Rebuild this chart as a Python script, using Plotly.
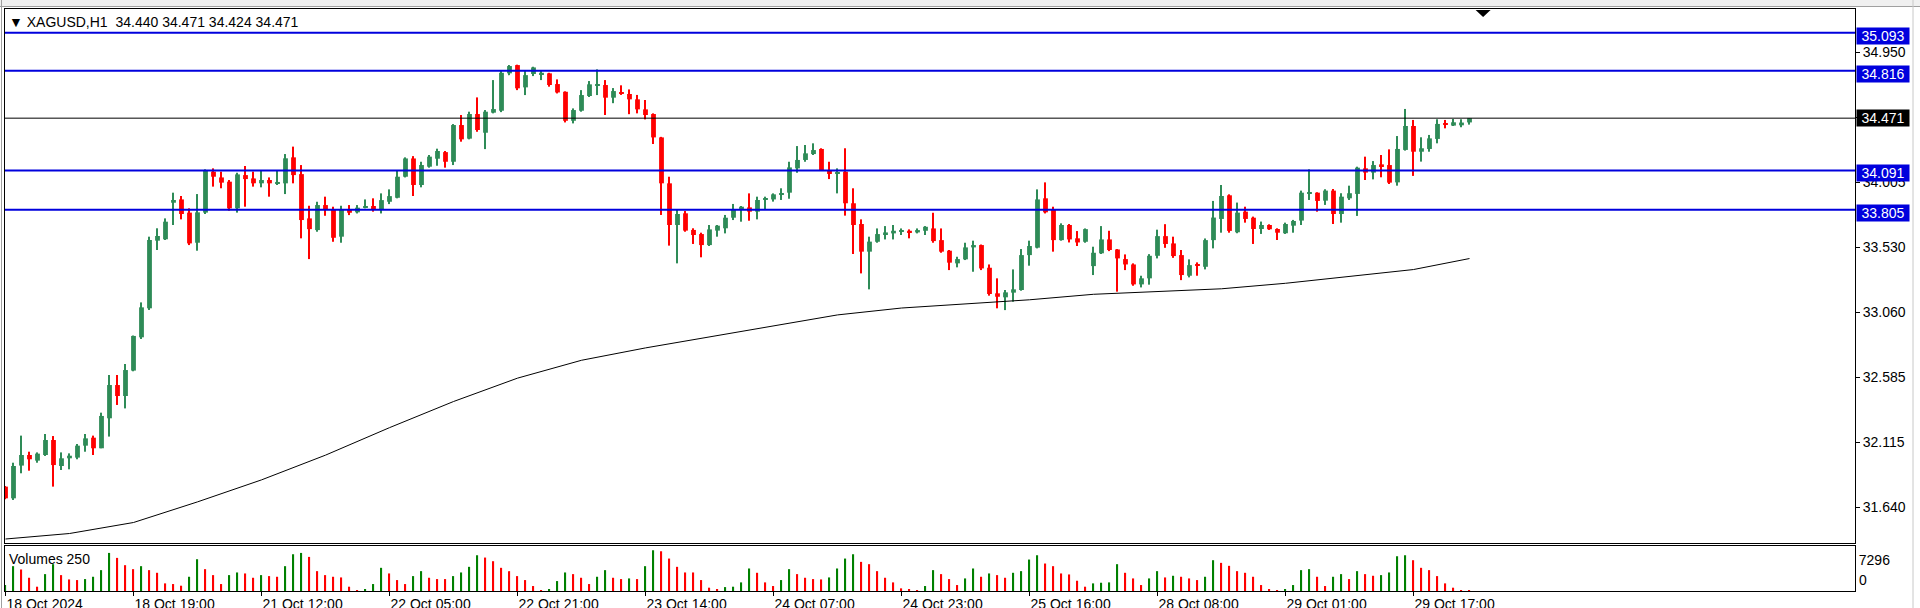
import plotly.graph_objects as go

# XAGUSD H1 candles (bar 0 = leftmost visible bar)
opens = [
    31.791, 31.706, 31.944, 32.021, 31.980, 32.021, 32.130, 31.941,
    31.997, 32.002, 32.089, 32.147, 32.070, 32.288, 32.530, 32.450,
    32.635, 32.877, 33.088, 33.580, 33.590, 33.856, 33.880, 33.784,
    33.565, 33.784, 34.082, 34.040, 34.009, 33.815, 34.057, 34.033,
    33.997, 34.021, 33.997, 33.997, 34.186, 34.064, 33.742, 33.657,
    33.839, 33.803, 33.609, 33.805, 33.786, 33.822, 33.832, 33.803,
    33.863, 33.892, 34.045, 34.178, 33.985, 34.118, 34.176, 34.224,
    34.154, 34.421, 34.322, 34.501, 34.365, 34.511, 34.525, 34.797,
    34.857, 34.695, 34.792, 34.789, 34.797, 34.719, 34.663, 34.452,
    34.525, 34.632, 34.707, 34.712, 34.620, 34.659, 34.647, 34.608,
    34.535, 34.501, 34.331, 33.997, 33.694, 33.779, 33.658, 33.628,
    33.548, 33.653, 33.670, 33.747, 33.803, 33.822, 33.791, 33.876,
    33.880, 33.914, 33.929, 34.106, 34.167, 34.210, 34.247, 34.094,
    34.065, 34.082, 33.852, 33.701, 33.500, 33.572, 33.628, 33.633,
    33.645, 33.652, 33.640, 33.652, 33.669, 33.584, 33.507, 33.415,
    33.444, 33.531, 33.548, 33.383, 33.197, 33.168, 33.202, 33.221,
    33.475, 33.529, 33.888, 33.803, 33.584, 33.694, 33.597, 33.572,
    33.395, 33.488, 33.589, 33.516, 33.446, 33.407, 33.262, 33.306,
    33.470, 33.613, 33.560, 33.475, 33.325, 33.410, 33.390, 33.584,
    33.738, 33.910, 33.641, 33.791, 33.747, 33.665, 33.694, 33.665,
    33.634, 33.689, 33.726, 33.925, 33.929, 33.871, 33.944, 33.774,
    33.888, 33.920, 34.106, 34.075, 34.135, 34.130, 34.004, 34.240,
    34.414, 34.227, 34.247, 34.320, 34.434, 34.417, 34.419, 34.440,
]
highs = [
    31.795, 31.965, 32.162, 32.045, 32.040, 32.174, 32.159, 32.040,
    32.033, 32.101, 32.174, 32.162, 32.329, 32.603, 32.603, 32.683,
    32.890, 33.131, 33.609, 33.670, 33.742, 33.929, 33.905, 33.815,
    33.919, 34.099, 34.106, 34.082, 34.021, 34.074, 34.123, 34.082,
    34.089, 34.040, 34.094, 34.210, 34.264, 34.130, 33.834, 33.863,
    33.900, 33.827, 33.834, 33.839, 33.839, 33.880, 33.888, 33.924,
    33.953, 34.089, 34.186, 34.195, 34.154, 34.203, 34.249, 34.232,
    34.428, 34.494, 34.518, 34.622, 34.530, 34.748, 34.816, 34.857,
    34.860, 34.816, 34.845, 34.821, 34.801, 34.753, 34.666, 34.542,
    34.675, 34.741, 34.826, 34.748, 34.690, 34.710, 34.680, 34.640,
    34.603, 34.506, 34.335, 34.045, 33.808, 33.796, 33.670, 33.638,
    33.694, 33.694, 33.767, 33.847, 33.832, 33.924, 33.900, 33.900,
    33.924, 33.961, 34.154, 34.268, 34.276, 34.288, 34.252, 34.154,
    34.106, 34.252, 33.961, 33.735, 33.609, 33.669, 33.686, 33.694,
    33.669, 33.662, 33.669, 33.686, 33.783, 33.669, 33.512, 33.463,
    33.565, 33.580, 33.552, 33.407, 33.306, 33.221, 33.371, 33.519,
    33.580, 33.953, 34.004, 33.827, 33.706, 33.701, 33.650, 33.669,
    33.536, 33.686, 33.652, 33.519, 33.480, 33.415, 33.325, 33.482,
    33.660, 33.700, 33.609, 33.512, 33.444, 33.422, 33.596, 33.869,
    33.985, 33.917, 33.857, 33.827, 33.755, 33.719, 33.699, 33.670,
    33.711, 33.731, 33.944, 34.099, 33.932, 33.954, 33.956, 33.925,
    33.980, 34.118, 34.191, 34.159, 34.203, 34.244, 34.341, 34.538,
    34.458, 34.332, 34.349, 34.463, 34.458, 34.465, 34.463, 34.471,
]
lows = [
    31.700, 31.694, 31.888, 31.907, 31.965, 32.014, 31.791, 31.912,
    31.917, 31.990, 32.045, 32.021, 32.070, 32.155, 32.385, 32.360,
    32.630, 32.865, 33.076, 33.512, 33.585, 33.694, 33.735, 33.548,
    33.507, 33.774, 33.973, 33.961, 33.798, 33.784, 33.827, 33.973,
    33.968, 33.900, 33.985, 33.919, 33.997, 33.597, 33.446, 33.645,
    33.761, 33.572, 33.565, 33.766, 33.778, 33.815, 33.791, 33.778,
    33.846, 33.888, 34.040, 33.905, 33.968, 34.111, 34.125, 34.111,
    34.130, 34.300, 34.317, 34.372, 34.246, 34.506, 34.515, 34.784,
    34.675, 34.639, 34.777, 34.748, 34.700, 34.651, 34.440, 34.433,
    34.518, 34.625, 34.639, 34.494, 34.580, 34.640, 34.500, 34.506,
    34.462, 34.283, 33.767, 33.544, 33.415, 33.645, 33.556, 33.459,
    33.541, 33.609, 33.633, 33.730, 33.718, 33.725, 33.735, 33.803,
    33.864, 33.876, 33.885, 34.074, 34.154, 34.203, 34.089, 34.028,
    33.924, 33.762, 33.483, 33.342, 33.226, 33.565, 33.589, 33.589,
    33.621, 33.597, 33.633, 33.621, 33.565, 33.492, 33.366, 33.386,
    33.439, 33.354, 33.366, 33.180, 33.088, 33.075, 33.136, 33.216,
    33.398, 33.524, 33.778, 33.500, 33.580, 33.567, 33.541, 33.565,
    33.330, 33.483, 33.504, 33.209, 33.366, 33.252, 33.240, 33.260,
    33.451, 33.528, 33.455, 33.293, 33.313, 33.325, 33.371, 33.524,
    33.638, 33.638, 33.634, 33.711, 33.556, 33.629, 33.658, 33.585,
    33.629, 33.638, 33.694, 33.876, 33.791, 33.840, 33.701, 33.711,
    33.876, 33.760, 34.021, 34.026, 34.041, 33.992, 33.980, 34.235,
    34.051, 34.155, 34.227, 34.288, 34.397, 34.414, 34.405, 34.424,
]
closes = [
    31.706, 31.941, 32.021, 31.990, 32.031, 32.130, 31.948, 31.997,
    32.016, 32.089, 32.142, 32.070, 32.305, 32.530, 32.450, 32.639,
    32.887, 33.095, 33.585, 33.614, 33.718, 33.876, 33.774, 33.560,
    33.786, 34.089, 34.045, 34.002, 33.815, 34.062, 34.028, 33.997,
    34.021, 33.997, 34.007, 34.179, 34.057, 33.730, 33.664, 33.839,
    33.803, 33.601, 33.810, 33.783, 33.820, 33.832, 33.803, 33.875,
    33.904, 34.045, 34.178, 33.985, 34.130, 34.191, 34.232, 34.154,
    34.421, 34.317, 34.501, 34.385, 34.518, 34.537, 34.801, 34.850,
    34.688, 34.784, 34.840, 34.801, 34.712, 34.658, 34.452, 34.530,
    34.639, 34.717, 34.717, 34.620, 34.668, 34.647, 34.608, 34.535,
    34.494, 34.331, 33.997, 33.694, 33.774, 33.653, 33.621, 33.548,
    33.662, 33.689, 33.747, 33.808, 33.827, 33.791, 33.876, 33.885,
    33.917, 33.924, 34.113, 34.167, 34.215, 34.239, 34.094, 34.065,
    34.075, 33.852, 33.694, 33.500, 33.573, 33.628, 33.640, 33.652,
    33.657, 33.640, 33.657, 33.681, 33.577, 33.500, 33.420, 33.446,
    33.531, 33.548, 33.378, 33.192, 33.172, 33.204, 33.226, 33.475,
    33.541, 33.880, 33.786, 33.584, 33.694, 33.589, 33.567, 33.664,
    33.492, 33.589, 33.512, 33.451, 33.407, 33.262, 33.306, 33.470,
    33.613, 33.556, 33.468, 33.330, 33.402, 33.398, 33.584, 33.748,
    33.905, 33.651, 33.784, 33.738, 33.665, 33.694, 33.663, 33.638,
    33.701, 33.723, 33.929, 33.931, 33.869, 33.944, 33.774, 33.900,
    33.925, 34.111, 34.075, 34.130, 34.123, 34.002, 34.247, 34.414,
    34.227, 34.252, 34.324, 34.429, 34.424, 34.441, 34.439, 34.471,
]
volumes = [
    1067, 4448, 3855, 2372, 771, 3024, 4803, 2846,
    2075, 1957, 2135, 2550, 3736, 6820, 5930, 4625,
    3914, 4448, 3736, 3262, 1364, 1245, 949, 2550,
    5693, 3914, 2846, 1245, 2846, 3321, 3143, 2372,
    2846, 2669, 2550, 4448, 6582, 6820, 6108, 3558,
    2846, 2550, 2431, 771, 178, 297, 1245, 4151,
    3143, 1957, 1245, 2669, 3558, 2372, 2135, 2135,
    2669, 3321, 4329, 6404, 5989, 5337, 4151, 3558,
    2669, 1957, 890, 178, 237, 1779, 3321, 3024,
    2372, 1245, 2550, 3736, 2372, 2135, 2253, 2135,
    4448, 7296, 7118, 5811, 4329, 3321, 3321, 1957,
    593, 356, 700, 771, 1542, 4032, 3262, 1542,
    890, 1957, 3914, 3024, 2372, 2135, 2075, 2431,
    4032, 5811, 6582, 5218, 4803, 3558, 2372, 1542,
    474, 237, 178, 890, 3736, 3024, 2135, 1067,
    2253, 4032, 2550, 3143, 2846, 2372, 3262, 3558,
    5633, 6404, 4922, 4448, 3143, 2965, 1838, 771,
    1364, 1482, 1542, 4803, 3262, 2253, 1067, 2253,
    3558, 2431, 2728, 2550, 2253, 1957, 2550, 5515,
    5040, 4507, 3558, 3262, 2550, 1067, 297, 178,
    297, 1067, 3736, 3914, 2550, 890, 2550, 3024,
    2135, 3558, 3024, 2728, 2846, 3321, 6226, 6404,
    5515, 4151, 3736, 2669, 1364, 593, 178, 178,
]

# moving average (250) read at a few bars
ma_bars = [0, 8, 16, 24, 32, 40, 48, 56, 64, 72, 80, 88, 96, 104,
           112, 120, 128, 136, 144, 152, 160, 168, 176, 183]
ma_values = [31.41, 31.45, 31.53, 31.68, 31.84, 32.02, 32.22, 32.41,
             32.58, 32.71, 32.80, 32.88, 32.96, 33.04, 33.09, 33.12,
             33.15, 33.19, 33.21, 33.23, 33.27, 33.32, 33.37, 33.45]

level_prices = [35.093, 34.816, 34.091, 33.805]
current_price = 34.471

price_ticks = [31.640, 32.115, 32.585, 33.060, 33.530, 34.005, 34.475, 34.950]
time_tick_bars = [0, 16, 32, 48, 64, 80, 96, 112, 128, 144, 160, 176]
time_tick_labels = ["18 Oct 2024", "18 Oct 19:00", "21 Oct 12:00", "22 Oct 05:00",
                    "22 Oct 21:00", "23 Oct 14:00", "24 Oct 07:00", "24 Oct 23:00",
                    "25 Oct 16:00", "28 Oct 08:00", "29 Oct 01:00", "29 Oct 17:00"]
volume_max = 7296

GREEN = "#2E8B57"
RED = "#FF0000"
BLUE = "#0000DD"
FONT = "Liberation Sans"

bars = list(range(len(closes)))
candle_colors = [GREEN if c > o else RED for o, c in zip(opens, closes)]
body_base = [min(o, c) for o, c in zip(opens, closes)]
body_size = [max(abs(c - o), 0.007) for o, c in zip(opens, closes)]
wick_size = [h - l for h, l in zip(highs, lows)]
# MT4 volumes: green when volume rises over the previous bar
vol_colors = ["#008000"] + ["#008000" if volumes[i] > volumes[i - 1] else RED
                            for i in range(1, len(volumes))]

fig = go.Figure()
fig.add_trace(go.Bar(x=bars, y=wick_size, base=lows, width=0.13,
                     marker=dict(color=candle_colors, line=dict(width=0)),
                     xaxis="x", yaxis="y", hoverinfo="skip"))
fig.add_trace(go.Bar(x=bars, y=body_size, base=body_base, width=0.6,
                     marker=dict(color=candle_colors, line=dict(width=0)),
                     xaxis="x", yaxis="y", hoverinfo="skip"))
fig.add_trace(go.Scatter(x=ma_bars, y=ma_values, mode="lines",
                         line=dict(color="black", width=1),
                         xaxis="x", yaxis="y", hoverinfo="skip"))
fig.add_trace(go.Bar(x=bars, y=volumes, width=0.15,
                     marker=dict(color=vol_colors, line=dict(width=0)),
                     xaxis="x2", yaxis="y2", hoverinfo="skip"))

# horizontal levels and their price boxes
shapes = []
annotations = []
for p in level_prices:
    shapes.append(dict(type="line", xref="paper", x0=0, x1=1, yref="y", y0=p, y1=p,
                       line=dict(color=BLUE, width=2)))
    annotations.append(dict(xref="paper", x=1, xanchor="left", xshift=1,
                            yref="y", y=p, yanchor="middle", yshift=-3,
                            text=f"{p:.3f}", showarrow=False, bgcolor=BLUE,
                            width=50, height=14, borderpad=1,
                            font=dict(family=FONT, size=14, color="white")))
shapes.append(dict(type="line", xref="paper", x0=0, x1=1, yref="y",
                   y0=current_price, y1=current_price, line=dict(color="black", width=1)))
annotations.append(dict(xref="paper", x=1, xanchor="left", xshift=1,
                        yref="y", y=current_price, yanchor="middle",
                        text=f"{current_price:.3f}", showarrow=False, bgcolor="black",
                        width=50, height=14, borderpad=1,
                        font=dict(family=FONT, size=14, color="white")))

# window strip at the very top
shapes.append(dict(type="rect", xref="paper", yref="paper", x0=-0.01, x1=1.05,
                   y0=1 + 2.5 / 582, y1=1 + 12 / 582, fillcolor="#F0F0F0", line=dict(width=0)))
shapes.append(dict(type="line", xref="paper", yref="paper", x0=-0.01, x1=1.05,
                   y0=1 + 2.5 / 582, y1=1 + 2.5 / 582, line=dict(color="#A0A0A0", width=1)))
shapes.append(dict(type="line", xref="paper", yref="paper", x0=-3.5 / 1850, x1=-3.5 / 1850,
                   y0=-0.05, y1=1.02, line=dict(color="#A0A0A0", width=1)))
shapes.append(dict(type="line", xref="paper", yref="paper", x0=1 + 58 / 1850, x1=1 + 58 / 1850,
                   y0=-0.05, y1=1.02, line=dict(color="#C8C8C8", width=1)))
# chart shift marker
shapes.append(dict(type="path", xref="x", yref="paper", xsizemode="pixel", ysizemode="pixel",
                   xanchor=184.7, yanchor=1, path="M -7.5 -1 L 7.5 -1 L 0 -8 Z",
                   fillcolor="black", line=dict(width=0)))

annotations.append(dict(xref="paper", x=0, xanchor="left", xshift=2,
                        yref="paper", y=1, yanchor="top", yshift=-3,
                        text="\u25bc XAGUSD,H1 \u00a034.440 34.471 34.424 34.471",
                        showarrow=False, font=dict(family=FONT, size=14, color="black")))
annotations.append(dict(xref="paper", x=0, xanchor="left", xshift=2,
                        yref="paper", y=45 / 582, yanchor="top", yshift=-3,
                        text="Volumes 250", showarrow=False,
                        font=dict(family=FONT, size=14, color="black")))
annotations.append(dict(xref="paper", x=1, xanchor="left", xshift=2,
                        yref="y2", y=0, yanchor="bottom", yshift=1,
                        text="0", showarrow=False,
                        font=dict(family=FONT, size=14, color="black")))

x_range = [-0.0625, -0.0625 + 1850 / 8]

fig.update_layout(
    width=1920, height=608,
    margin=dict(l=5, r=65, t=9, b=17, autoexpand=False),
    paper_bgcolor="white", plot_bgcolor="white",
    barmode="overlay", showlegend=False,
    font=dict(family=FONT, size=14, color="black"),
    shapes=shapes, annotations=annotations,
    xaxis=dict(domain=[0, 1], anchor="y", range=x_range, showgrid=False, zeroline=False,
               showticklabels=False, ticks="", showline=True, mirror=True,
               linecolor="black", linewidth=1, automargin=False),
    yaxis=dict(domain=[48 / 582, 1], anchor="x", side="right", range=[31.381, 35.265],
               showgrid=False, zeroline=False, tickvals=price_ticks,
               ticktext=[f"{v:.3f}" for v in price_ticks], ticks="outside", ticklen=4,
               tickcolor="black", showline=True, mirror=True, linecolor="black",
               linewidth=1, automargin=False,
               tickfont=dict(family=FONT, size=14, color="black")),
    xaxis2=dict(domain=[0, 1], anchor="y2", range=x_range, showgrid=False, zeroline=False,
                tickvals=time_tick_bars, ticktext=time_tick_labels, ticks="outside",
                ticklen=4, tickcolor="black", ticklabelposition="outside right",
                showline=True, mirror=True, linecolor="black", linewidth=1,
                automargin=False, tickfont=dict(family=FONT, size=14, color="black")),
    yaxis2=dict(domain=[0, 45 / 582], anchor="x2", side="right", range=[0, 8060],
                showgrid=False, zeroline=False, tickvals=[volume_max],
                ticktext=[str(volume_max)], ticks="", ticklabelposition="outside bottom",
                showline=True, mirror=True, linecolor="black", linewidth=1,
                automargin=False, tickfont=dict(family=FONT, size=14, color="black")),
)

fig.write_html("out.html", config={"displayModeBar": False},
               post_script="document.body.style.margin='0';document.body.style.overflow='hidden';")
